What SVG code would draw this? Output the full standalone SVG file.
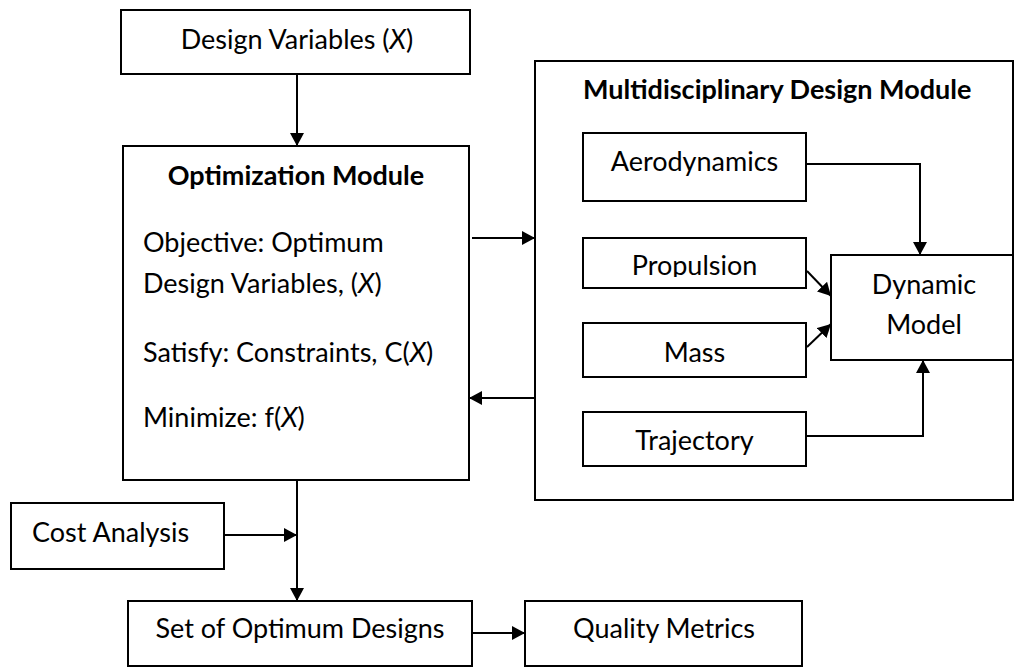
<svg xmlns="http://www.w3.org/2000/svg" width="1015" height="668" viewBox="0 0 1015 668">
<style>
.box{fill:#fff;stroke:#000;stroke-width:2}
.t{font-family:Lato,"Liberation Sans",sans-serif;font-size:27px;fill:#000}
.c{text-anchor:middle}
.b{font-weight:bold}
.i{font-style:italic}
.ln{fill:none;stroke:#000;stroke-width:2}
</style>
<defs>
<marker id="ah" markerUnits="userSpaceOnUse" markerWidth="14" markerHeight="14" refX="13" refY="7" orient="auto">
<path d="M0,0 L13,7 L0,14 z" fill="#000"/>
</marker>
<clipPath id="propClip"><rect x="583" y="238" width="223" height="39"/></clipPath>
</defs>
<rect width="1015" height="668" fill="#fff"/>
<g id="mdm">
<rect class="box" x="535" y="61" width="478" height="439"/>
<text class="t b" x="583" y="99">Multidisciplinary Design Module</text>
</g>
<g id="design-variables">
<rect class="box" x="121" y="10" width="349" height="64"/>
<text class="t c" x="297" y="49">Design Variables (<tspan class="i">X</tspan>)</text>
</g>
<g id="optimization">
<rect class="box" x="123" y="146" width="346" height="334"/>
<text class="t b c" x="296" y="185">Optimization Module</text>
<text class="t" x="143" y="252">Objective: Optimum</text>
<text class="t" x="143" y="293">Design Variables, (<tspan class="i">X</tspan>)</text>
<text class="t" x="143" y="362">Satisfy: Constraints, C(<tspan class="i">X</tspan>)</text>
<text class="t" x="143" y="427">Minimize: f(<tspan class="i">X</tspan>)</text>
</g>
<g id="aerodynamics">
<rect class="box" x="583" y="133" width="223" height="68"/>
<text class="t c" x="694.5" y="171">Aerodynamics</text>
</g>
<g id="propulsion">
<rect class="box" x="583" y="238" width="223" height="50"/>
<text class="t c" x="694.5" y="275" clip-path="url(#propClip)">Propulsion</text>
</g>
<g id="mass">
<rect class="box" x="583" y="323" width="223" height="54"/>
<text class="t c" x="694.5" y="362">Mass</text>
</g>
<g id="trajectory">
<rect class="box" x="583" y="412" width="223" height="54"/>
<text class="t c" x="694.5" y="450">Trajectory</text>
</g>
<g id="dynamic-model">
<rect class="box" x="831" y="255" width="182" height="105"/>
<text class="t c" x="924" y="294">Dynamic</text>
<text class="t c" x="924" y="334">Model</text>
</g>
<g id="cost-analysis">
<rect class="box" x="11" y="503" width="213" height="66"/>
<text class="t" x="32" y="542">Cost Analysis</text>
</g>
<g id="optimum-designs">
<rect class="box" x="128" y="601" width="344" height="65"/>
<text class="t c" x="300" y="638">Set of Optimum Designs</text>
</g>
<g id="quality-metrics">
<rect class="box" x="525" y="601" width="277" height="65"/>
<text class="t c" x="664" y="638">Quality Metrics</text>
</g>
<g id="connectors">
<path class="ln" d="M297,74 V146" marker-end="url(#ah)"/>
<path class="ln" d="M472,238 H535" marker-end="url(#ah)"/>
<path class="ln" d="M535,398 H469" marker-end="url(#ah)"/>
<path class="ln" d="M297,480 V601" marker-end="url(#ah)"/>
<path class="ln" d="M224,535 H297" marker-end="url(#ah)"/>
<path class="ln" d="M472,633 H525" marker-end="url(#ah)"/>
<path class="ln" d="M806,164 H920 V255" marker-end="url(#ah)"/>
<path class="ln" d="M807,271 L831,296" marker-end="url(#ah)"/>
<path class="ln" d="M807,347 L831,324" marker-end="url(#ah)"/>
<path class="ln" d="M806,436 H923 V360" marker-end="url(#ah)"/>
</g>
</svg>
